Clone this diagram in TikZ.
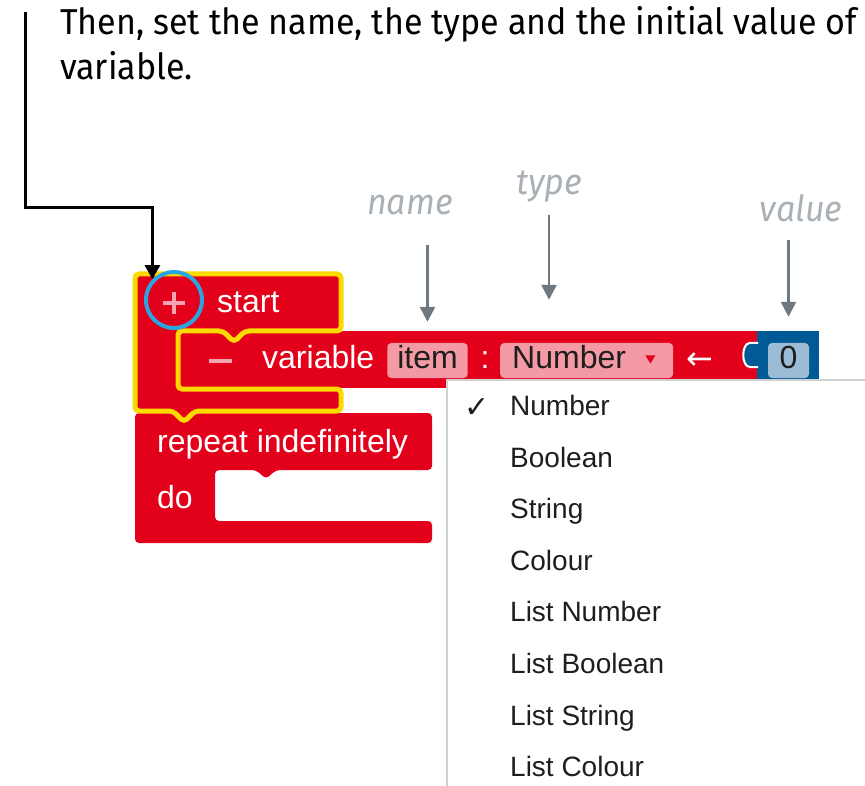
\documentclass[tikz,border=0pt]{standalone}
\usepackage{fontspec}
\setmainfont{Fira Sans}
\newfontfamily\titlefont{Fira Sans}[FakeStretch=0.945]
\newfontfamily\blockfont{Liberation Sans}
\newfontfamily\symfont{DejaVu Sans}
\usepackage{xcolor}
\usepackage{tikz}
\usetikzlibrary{arrows.meta,positioning}

\definecolor{blkred}{HTML}{E2001A}
\definecolor{hiyellow}{HTML}{FCD900}
\definecolor{fieldpink}{HTML}{F39AA5}
\definecolor{barpink}{HTML}{F5A5B2}
\definecolor{valblue}{HTML}{005A96}
\definecolor{valfield}{HTML}{9CBCD6}
\definecolor{ringblue}{HTML}{2AA5E1}
\definecolor{ptrgray}{HTML}{6E7880}
\definecolor{hintgray}{HTML}{A9B1B6}
\definecolor{menuline}{HTML}{D0D0D0}
\definecolor{inkdark}{HTML}{1E1E1E}

\begin{document}
\begin{tikzpicture}[
      x=1pt, y=-1pt,
      title/.style={font=\titlefont\fontsize{36}{45}\selectfont, inner sep=0pt},
      hint/.style={font=\titlefont\itshape\fontsize{36}{45}\selectfont, text=hintgray, inner sep=0pt},
      blocktxt/.style={font=\blockfont\fontsize{32}{38}\selectfont, text=white, inner sep=0pt},
      field/.style={fill=fieldpink, rounded corners=4pt, font=\blockfont\fontsize{32}{38}\selectfont, text=inkdark, inner xsep=10pt, inner ysep=3pt, text height=23pt, text depth=6pt},
      menuitem/.style={font=\blockfont\fontsize{28}{34}\selectfont, text=inkdark, inner sep=0pt, text height=20pt, text depth=6pt},
      menu/.style={fill=white, draw=menuline, line width=1.5pt},
      blk/.style={fill=blkred, rounded corners=4pt},
      pinkbar/.style={draw=barpink, line width=4pt},
      ptr/.style={-{Triangle[width=15pt,length=15pt]}, line width=2.5pt, draw=ptrgray},
      lead/.style={-{Triangle[width=15pt,length=14pt]}, line width=3pt}
    ]
    \path[use as bounding box, fill=white] (0,0) rectangle (865,786);

    % Caption on top
    \node[title, anchor=base west] (title) at (60,35) {Then, set the name, the type and the initial value of};
    \node[title, anchor=base west] (title2) at ([yshift=-45pt]title.base west) {variable.};

    % repeat block (behind the start block)
    \path[blk] (135,413) -- (432,413) -- (432,470) -- (276,470) -- (266,479) -- (256,470) -- (215,470)
      -- (215,521) -- (432,521) -- (432,543) -- (135,543) -- cycle;
    \node[blocktxt, anchor=base west] (repeattxt) at (157,452) {repeat indefinitely};
    \node[blocktxt, anchor=base west] (dotxt) at (157,508) {do};

    % variable statement and its value block
    \fill[blkred] (178,331) rectangle (757,388);
    \fill[valblue] (757,331) rectangle (819,388);
    \draw[white, line width=2pt, fill=valblue] (758,343) -- (750,343) .. controls (741,343) and (741,367) .. (750,367) -- (758,367);

    % start block, highlighted
    \path[blk, draw=hiyellow, line width=5pt] (135,274) -- (341,274) -- (341,331) -- (245,331) -- (234,342) -- (223,331)
      -- (178,331) -- (178,389) -- (341,389) -- (341,411) -- (195,411) -- (184,422) -- (173,411) -- (135,411) -- cycle;

    \node[draw=ringblue, line width=4pt, circle, minimum size=56pt, inner sep=0pt] (ring) at (174,300) {};
    \draw[pinkbar] ([xshift=-11pt,yshift=-3pt]ring.center) -- ([xshift=11pt,yshift=-3pt]ring.center);
    \draw[pinkbar] ([yshift=8pt]ring.center) -- ([yshift=-14pt]ring.center);
    \node[blocktxt, anchor=base west] (starttxt) at (217,313) {start};

    \draw[pinkbar] (209,361) -- (232,361);
    \node[blocktxt, anchor=base west] (vartxt) at (262,369) {variable};
    \node[field] (item) at (427.5,360.5) {item};
    \node[blocktxt, anchor=base] (colon) at (485,369) {:};
    \node[field, anchor=west, text width=149pt, align=left, inner xsep=12pt] (numfield) at (500,360.5) {Number};
    \fill[blkred] ([xshift=-28pt,yshift=5pt]numfield.east) -- ++(10,0) -- ++(-5,8) -- cycle;
    \node[blocktxt, font=\symfont\fontsize{32}{38}\selectfont, anchor=base] (assign) at (700,370) {←};
    \node[field, fill=valfield, minimum width=41pt, inner xsep=0pt] (zero) at (788.5,360.5) {0};

    % type menu, opened
    \node[menu, anchor=north west, minimum width=460pt, minimum height=440pt] (menu) at (446,379) {};
    \node[menuitem, anchor=base west] (opt0) at (510,415.5) {Number};
    \node[menuitem, below=25.2pt of opt0.south west, anchor=north west] (opt1) {Boolean};
    \node[menuitem, below=25.2pt of opt1.south west, anchor=north west] (opt2) {String};
    \node[menuitem, below=25.2pt of opt2.south west, anchor=north west] (opt3) {Colour};
    \node[menuitem, below=25.2pt of opt3.south west, anchor=north west] (opt4) {List Number};
    \node[menuitem, below=25.2pt of opt4.south west, anchor=north west] (opt5) {List Boolean};
    \node[menuitem, below=25.2pt of opt5.south west, anchor=north west] (opt6) {List String};
    \node[menuitem, below=25.2pt of opt6.south west, anchor=north west] (opt7) {List Colour};
    \node[font=\symfont\fontsize{30}{34}\selectfont, text=inkdark, inner sep=0pt, left=20pt of opt0] (tick) {✓};

    % hints above the block
    \node[hint, anchor=base] (hname) at (410,215) {name};
    \node[hint, anchor=base] (htype) at (549,195) {type};
    \node[hint, anchor=base] (hvalue) at (801,222) {value};
    \draw[ptr, shorten <=30pt, shorten >=21pt] (item |- hname.base) -- (item.north);
    \draw[ptr, shorten <=20pt, shorten >=43pt] (htype.base) -- (htype.base |- numfield.north);
    \draw[ptr, shorten <=18pt, shorten >=26pt] (zero |- hvalue.base) -- (zero.north);

    % pointer from the caption down to the + button
    \coordinate (leadtop) at (25,12);
    \draw[lead] (leadtop) |- ([yshift=72pt]ring.136) -- (ring.136);
  \end{tikzpicture}
\end{document}
